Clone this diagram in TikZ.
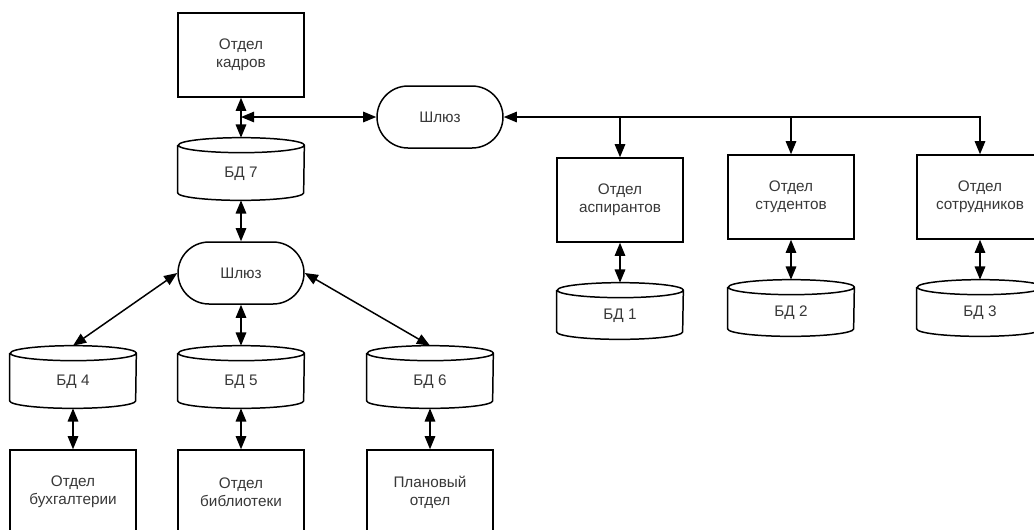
\documentclass[tikz,border=0pt]{standalone}
\usepackage{fontspec}
\setmainfont{Liberation Sans}
\usetikzlibrary{arrows.meta,shapes.misc}
\tikzset{
  line/.style={draw=black, line width=0.85pt},
  tip/.tip={Triangle[length=7.5pt,width=6pt]},
  dbl/.style={line, tip-tip},
  arr/.style={line, -tip},
  lbl/.style={font=\fontsize{8.7}{10.4}\selectfont, text=black!78, align=center},
  dept/.style={lbl, line, rectangle, minimum width=2.52cm, minimum height=1.68cm, inner sep=0pt},
  gate/.style={lbl, line, rounded rectangle, minimum width=2.52cm, minimum height=1.24cm, inner sep=0pt},
  db/.style={lbl, draw=none, rectangle, minimum width=2.52cm, minimum height=#1, inner sep=0pt, text height=10pt, text depth=0pt},
  db/.default=1.24cm
}
\newcommand\drawcyl[1]{%
  \draw[line] ([yshift=-0.15cm]#1.north west) -- ([yshift=0.15cm]#1.south west)
    arc[start angle=180,end angle=360,x radius=1.26cm,y radius=0.15cm]
    -- ([yshift=-0.15cm]#1.north east)
    arc[start angle=0,end angle=360,x radius=1.26cm,y radius=0.15cm];}
\begin{document}
\begin{tikzpicture}[x=0.02cm,y=-0.02cm]
\useasboundingbox (0,0) rectangle (1034,529);
\clip (0,0) rectangle (1034,529);
\fill[white] (0,0) rectangle (1034,529);
% left part
\node[dept] (kadr) at (241,55) {Отдел\\кадров};
\node[db] (bd7) at (241,169) {БД 7};
\node[gate] (gw1) at (440,117) {Шлюз};
\node[gate] (gw2) at (241,273) {Шлюз};
\node[db] (bd4) at (73,377) {БД 4};
\node[db] (bd5) at (241,377) {БД 5};
\node[db] (bd6) at (430,377) {БД 6};
\node[dept] (b4) at (73,492) {Отдел\\бухгалтерии};
\node[dept] (b5) at (241,492) {Отдел\\библиотеки};
\node[dept] (b6) at (430,492) {Плановый\\отдел};
% right part
\node[dept] (asp) at (620,200) {Отдел\\аспирантов};
\node[dept] (stud) at (791,197) {Отдел\\студентов};
\node[dept] (sotr) at (980,197) {Отдел\\сотрудников};
\node[db=1.12cm] (bd1) at (620,311) {БД 1};
\node[db=1.12cm] (bd2) at (791,308) {БД 2};
\node[db=1.12cm] (bd3) at (980,308) {БД 3};
\drawcyl{bd7}\drawcyl{bd4}\drawcyl{bd5}\drawcyl{bd6}
\drawcyl{bd1}\drawcyl{bd2}\drawcyl{bd3}
% connectors
\coordinate (j) at (kadr.south |- gw1.west);
\draw[dbl] (kadr.south) -- (bd7.north);
\draw[dbl] (j) -- (gw1.west);
\draw[dbl] (bd7.south) -- (gw2.north);
\draw[dbl] (gw2.west) -- (bd4.north);
\draw[dbl] (gw2.south) -- (bd5.north);
\draw[dbl] (gw2.east) -- (bd6.north);
\draw[dbl] (bd4.south) -- (b4.north);
\draw[dbl] (bd5.south) -- (b5.north);
\draw[dbl] (bd6.south) -- (b6.north);
\draw[dbl] (gw1.east) -| (sotr.north);
\draw[arr] (asp.north |- gw1.east) -- (asp.north);
\draw[arr] (stud.north |- gw1.east) -- (stud.north);
\draw[dbl] (asp.south) -- (bd1.north);
\draw[dbl] (stud.south) -- (bd2.north);
\draw[dbl] (sotr.south) -- (bd3.north);
\end{tikzpicture}
\end{document}
